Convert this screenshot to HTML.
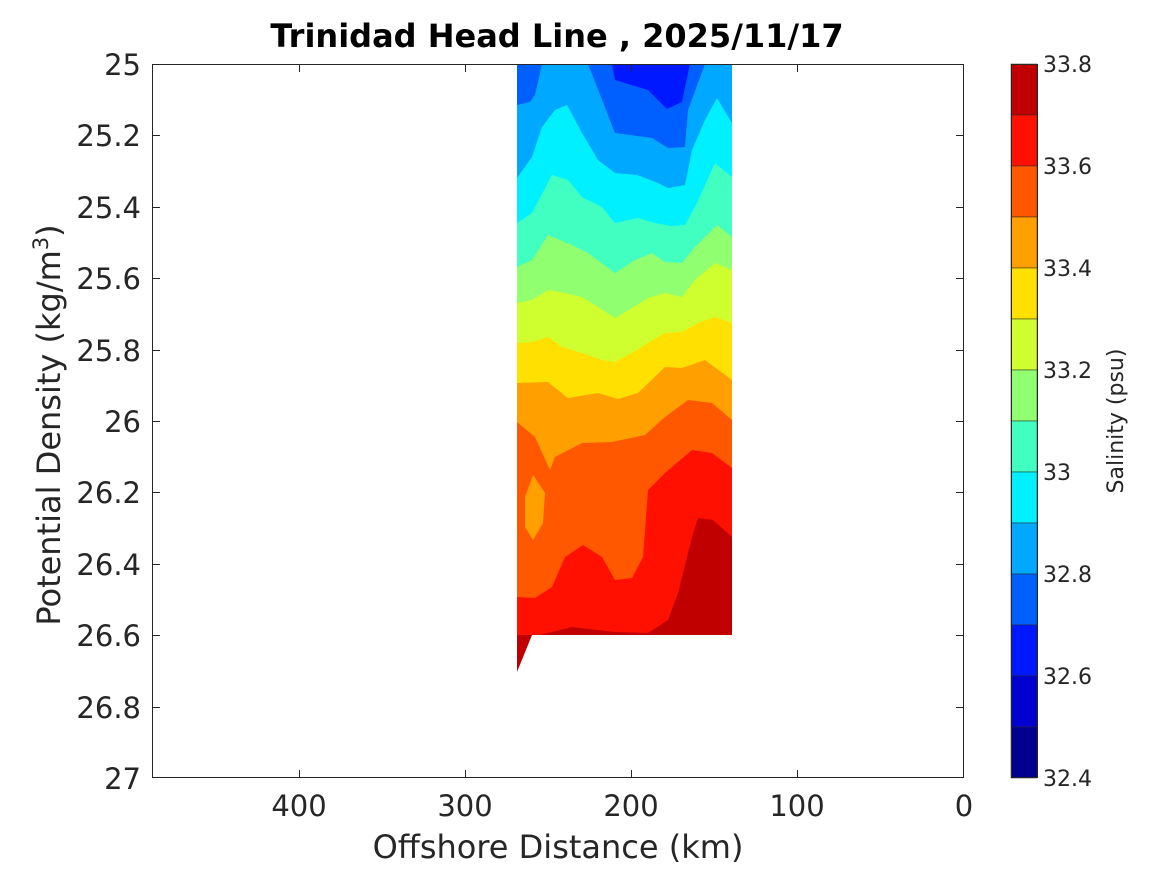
<!DOCTYPE html>
<html><head><meta charset="utf-8"><style>
body{margin:0;background:#fff}
svg text{font-family:"DejaVu Sans","Liberation Sans",sans-serif;fill:#262626}
</style></head><body>
<svg width="1167" height="875" xmlns="http://www.w3.org/2000/svg">
<rect width="1167" height="875" fill="#fff"/>
<g stroke="none">
<rect x="517" y="64" width="215" height="571" fill="#00a8ff"/>
<polygon fill="#0060ff" points="517,64 542,64 535,95 530,102 517,105"/>
<polygon fill="#0060ff" points="588,64 615,133 652,138 668,148 685,147 688,110 705,64"/>
<polygon fill="#0018ff" points="612,64 615,80 648,90 667,109 682,102 690,64"/>
<polygon fill="#00f0ff" points="517,178 532,157 542,127 555,110 567,105 582,133 598,160 615,173 637,175 658,183 668,188 685,185 692,150 705,120 717,98 732,123 732,635 517,635"/>
<polygon fill="#40ffc0" points="517,223 532,213 552,175 568,180 582,197 602,207 615,223 638,218 655,223 672,226 685,225 697,203 715,163 732,177 732,635 517,635"/>
<polygon fill="#90ff70" points="517,267 532,260 548,235 572,245 588,253 615,273 635,260 652,253 665,262 682,263 695,247 717,225 732,237 732,635 517,635"/>
<polygon fill="#d0ff30" points="517,303 532,300 548,290 565,293 582,297 598,307 615,318 632,308 648,298 665,293 682,297 695,280 715,263 732,270 732,635 517,635"/>
<polygon fill="#ffe000" points="517,343 532,342 548,337 562,347 582,353 602,360 615,362 632,353 648,343 665,333 682,332 698,323 715,317 732,323 732,635 517,635"/>
<polygon fill="#ffa000" points="517,383 548,382 568,398 598,393 618,399 638,393 665,367 682,368 705,360 732,380 732,635 517,635"/>
<polygon fill="#ff5800" points="517,422 535,437 550,470 555,457 582,443 612,442 645,435 665,417 688,400 712,403 732,420 732,635 517,635"/>
<polygon fill="#ffa000" points="525,497 533,475 545,493 543,523 533,540 525,527"/>
<polygon fill="#ff1000" points="517,597 535,598 552,587 565,557 583,545 602,557 615,580 632,578 643,557 648,490 665,473 692,450 712,453 732,468 732,635 517,635"/>
<polygon fill="#c00000" points="540,635 552,632 572,627 615,632 648,633 668,620 678,593 692,537 698,518 713,520 732,537 732,635"/>
<polygon fill="#c00000" points="517,635 532,635 517,672"/>
</g>
<rect x="152.5" y="64.5" width="811" height="713" fill="none" stroke="#262626" stroke-width="1"/>
<g stroke="#262626" stroke-width="1">
<path d="M299.5,778v-8M465.5,778v-8M631.5,778v-8M797.5,778v-8M963.5,778v-8M299.5,64v8M465.5,64v8M631.5,64v8M797.5,64v8"/>
<path d="M152,135.5h8M152,207.5h8M152,278.5h8M152,350.5h8M152,421.5h8M152,492.5h8M152,564.5h8M152,635.5h8M152,707.5h8M964,135.5h-8M964,207.5h-8M964,278.5h-8M964,350.5h-8M964,421.5h-8M964,492.5h-8M964,564.5h-8M964,635.5h-8M964,707.5h-8"/>
</g>
<g font-size="29" text-anchor="end">
<text x="141" y="75">25</text><text x="141" y="146">25.2</text><text x="141" y="218">25.4</text><text x="141" y="289">25.6</text><text x="141" y="361">25.8</text><text x="141" y="432">26</text><text x="141" y="503">26.2</text><text x="141" y="575">26.4</text><text x="141" y="646">26.6</text><text x="141" y="718">26.8</text><text x="141" y="789">27</text>
</g>
<g font-size="29" text-anchor="middle">
<text x="299" y="816">400</text><text x="465" y="816">300</text><text x="631" y="816">200</text><text x="797" y="816">100</text><text x="964" y="816">0</text>
</g>
<text x="558" y="858" font-size="32" text-anchor="middle">Offshore Distance (km)</text>
<text transform="translate(60,425) rotate(-90)" font-size="32" text-anchor="middle">Potential Density (kg/m<tspan font-size="21" dy="-12">3</tspan><tspan dy="12">)</tspan></text>
<text x="557" y="47" font-size="32" font-weight="bold" text-anchor="middle" style="fill:#000">Trinidad Head Line , 2025/11/17</text>
<g stroke="#262626" stroke-width="0.5">
<rect x="1011" y="64" width="26" height="51" fill="#c00000"/>
<rect x="1011" y="115" width="26" height="51" fill="#ff1000"/>
<rect x="1011" y="166" width="26" height="51" fill="#ff5800"/>
<rect x="1011" y="217" width="26" height="51" fill="#ffa000"/>
<rect x="1011" y="268" width="26" height="51" fill="#ffe000"/>
<rect x="1011" y="319" width="26" height="51" fill="#d0ff30"/>
<rect x="1011" y="370" width="26" height="51" fill="#90ff70"/>
<rect x="1011" y="421" width="26" height="51" fill="#40ffc0"/>
<rect x="1011" y="472" width="26" height="51" fill="#00f0ff"/>
<rect x="1011" y="523" width="26" height="51" fill="#00a8ff"/>
<rect x="1011" y="574" width="26" height="51" fill="#0060ff"/>
<rect x="1011" y="625" width="26" height="51" fill="#0018ff"/>
<rect x="1011" y="676" width="26" height="51" fill="#0000d0"/>
<rect x="1011" y="727" width="26" height="51" fill="#000090"/>
</g>
<rect x="1011.5" y="64.5" width="26" height="713" fill="none" stroke="#262626" stroke-width="1"/>
<g font-size="22">
<text x="1043" y="72">33.8</text><text x="1043" y="174">33.6</text><text x="1043" y="276">33.4</text><text x="1043" y="378">33.2</text><text x="1043" y="480">33</text><text x="1043" y="582">32.8</text><text x="1043" y="684">32.6</text><text x="1043" y="786">32.4</text>
</g>
<text transform="translate(1123,421) rotate(-90)" font-size="22" text-anchor="middle">Salinity (psu)</text>
</svg>
</body></html>
